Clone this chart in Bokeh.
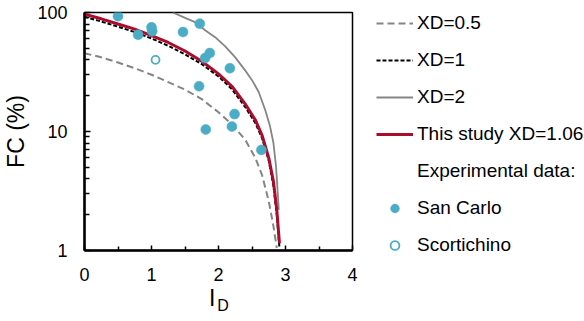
from bokeh.plotting import figure
from bokeh.models import Range1d, FixedTicker, Legend, LegendItem, LinearAxis, PrintfTickFormatter
from bokeh.embed import file_html
from bokeh.resources import INLINE

# ---- data ----
id_xd05 = [0, 0.25, 0.5, 0.75, 1.0, 1.25, 1.5, 1.75, 2.0, 2.2, 2.4, 2.55, 2.65, 2.75, 2.82, 2.87]
fc_xd05 = [45.5, 42, 38, 34, 30, 26, 22.5, 18.7, 14.5, 11.5, 8.5, 6.0, 4.3, 2.6, 1.6, 1.05]

id_xd1 = [0, 0.25, 0.5, 0.75, 1.0, 1.25, 1.5, 1.75, 2.0, 2.2, 2.4, 2.55, 2.65, 2.75, 2.82, 2.87, 2.91]
fc_xd1 = [92, 84, 76, 68.5, 60.5, 52.5, 44.5, 36.8, 29, 22.7, 16, 11.8, 8.8, 5.7, 3.5, 2.0, 1.05]

id_xd2 = [1.32, 1.5, 1.65, 1.8, 1.95, 2.1, 2.25, 2.4, 2.5, 2.6, 2.7, 2.77, 2.82, 2.86, 2.90]
fc_xd2 = [100, 90, 83, 71, 62, 52, 42, 32.5, 27, 21.5, 15, 11, 8, 5, 2.2]

id_study = [0, 0.25, 0.5, 0.75, 1.0, 1.25, 1.5, 1.75, 2.0, 2.2, 2.4, 2.55, 2.65, 2.75, 2.82, 2.87, 2.91]
fc_study = [97, 88.5, 80, 72.5, 64, 56, 47.5, 39, 30.5, 24, 17, 12.5, 9.3, 6.0, 3.8, 2.2, 1.15]

id_sancarlo = [0.50, 0.80, 1.00, 1.01, 1.47, 1.72, 1.80, 1.87, 2.17, 1.71, 2.24, 2.20, 1.81, 2.64]
fc_sancarlo = [93, 65, 75, 69.5, 68.5, 80.5, 41.4, 45.6, 34, 24, 14, 11, 10.4, 7.0]

id_scort = [1.06]
fc_scort = [40]

x_ticks = [0, 1, 2, 3, 4]
x_minor = [0.5, 1.5, 2.5, 3.5]
y_ticks = [1, 10, 100]
y_minor = [2, 3, 4, 5, 6, 7, 8, 9, 20, 30, 40, 50, 60, 70, 80, 90]

labels = ["XD=0.5", "XD=1", "XD=2", "This study XD=1.06", "Experimental data:", "San Carlo", "Scortichino"]

TEAL = "#4BACC6"
RED = "#AC0C2C"
GRAY = "#858585"
FONT = "Liberation Sans"
NB = "\u00a0"

p = figure(frame_width=268, frame_height=238, x_range=Range1d(0, 4), y_range=Range1d(1, 100),
           y_axis_type="log", output_backend="svg", toolbar_location=None,
           min_border_left=83, min_border_right=0, min_border_top=12, min_border_bottom=71)
p.xgrid.visible = False
p.ygrid.visible = False
p.outline_line_color = "black"
p.outline_line_width = 1.5
p.outline_line_alpha = 1
p.background_fill_color = "white"
p.border_fill_color = "white"

xa = p.xaxis[0]
xa.ticker = FixedTicker(ticks=x_ticks, minor_ticks=x_minor)
ya = p.yaxis[0]
ya.ticker = FixedTicker(ticks=y_ticks, minor_ticks=y_minor)
ya.formatter = PrintfTickFormatter(format="%d")
for ax in (xa, ya):
    ax.axis_line_width = 2.5
    ax.axis_line_color = "black"
    ax.major_tick_in = 6
    ax.major_tick_out = 0
    ax.minor_tick_in = 5
    ax.minor_tick_out = 0
    ax.major_tick_line_width = 1.5
    ax.minor_tick_line_width = 1.5
    ax.major_tick_line_color = "black"
    ax.minor_tick_line_color = "black"
    ax.major_label_text_font = FONT
    ax.major_label_text_font_size = "18px"
    ax.major_label_text_color = "black"
    ax.axis_label_text_font = FONT
    ax.axis_label_text_font_style = "normal"
    ax.axis_label_text_color = "black"
xa.major_tick_in = 5
xa.minor_tick_in = 4
xa.major_label_standoff = 17
ya.major_label_standoff = 17

ya.axis_label = "FC (%)"
ya.axis_label_text_font_size = "23px"
ya.axis_label_standoff = 5

xa.axis_label = "I" + NB + NB
xa.axis_label_text_font_size = "23px"
xa.axis_label_standoff = 1

# subscript "D" of the x-axis title, carried by a bare second bottom axis
xsub = LinearAxis(ticker=FixedTicker(ticks=[]), axis_label=NB + NB + "D",
                  axis_label_text_font=FONT, axis_label_text_font_size="16px",
                  axis_label_text_font_style="normal", axis_label_text_color="black",
                  axis_label_standoff=-17, major_label_standoff=0,
                  major_tick_in=0, major_tick_out=0, minor_tick_in=0, minor_tick_out=0,
                  axis_line_alpha=0)
p.add_layout(xsub, "below")

r05 = p.line(id_xd05, fc_xd05, line_color=GRAY, line_width=2, line_dash="7 4")
r1 = p.line(id_xd1, fc_xd1, line_color="black", line_width=2, line_dash="4 2")
r2 = p.line(id_xd2, fc_xd2, line_color=GRAY, line_width=1.8)
rs = p.line(id_study, fc_study, line_color=RED, line_width=3)
rdummy = p.line([], [], line_alpha=0)
rsc = p.scatter(id_sancarlo, fc_sancarlo, marker="circle", size=10, fill_color=TEAL,
                line_color=TEAL, line_width=0.5)
rso = p.scatter(id_scort, fc_scort, marker="circle", size=8, fill_color="white",
                line_color=TEAL, line_width=1.8)

items = [LegendItem(label=l, renderers=[r]) for l, r in
         zip(labels, [r05, r1, r2, rs, rdummy, rsc, rso])]
legend = Legend(items=items, location=(24, -6), padding=0, margin=0, spacing=15,
                glyph_width=37, glyph_height=22, label_height=22, label_standoff=4,
                label_text_font=FONT, label_text_font_size="19px", label_text_color="black",
                border_line_alpha=0, background_fill_alpha=0)
p.add_layout(legend, "right")

open("out.html", "w").write(file_html(p, INLINE))
